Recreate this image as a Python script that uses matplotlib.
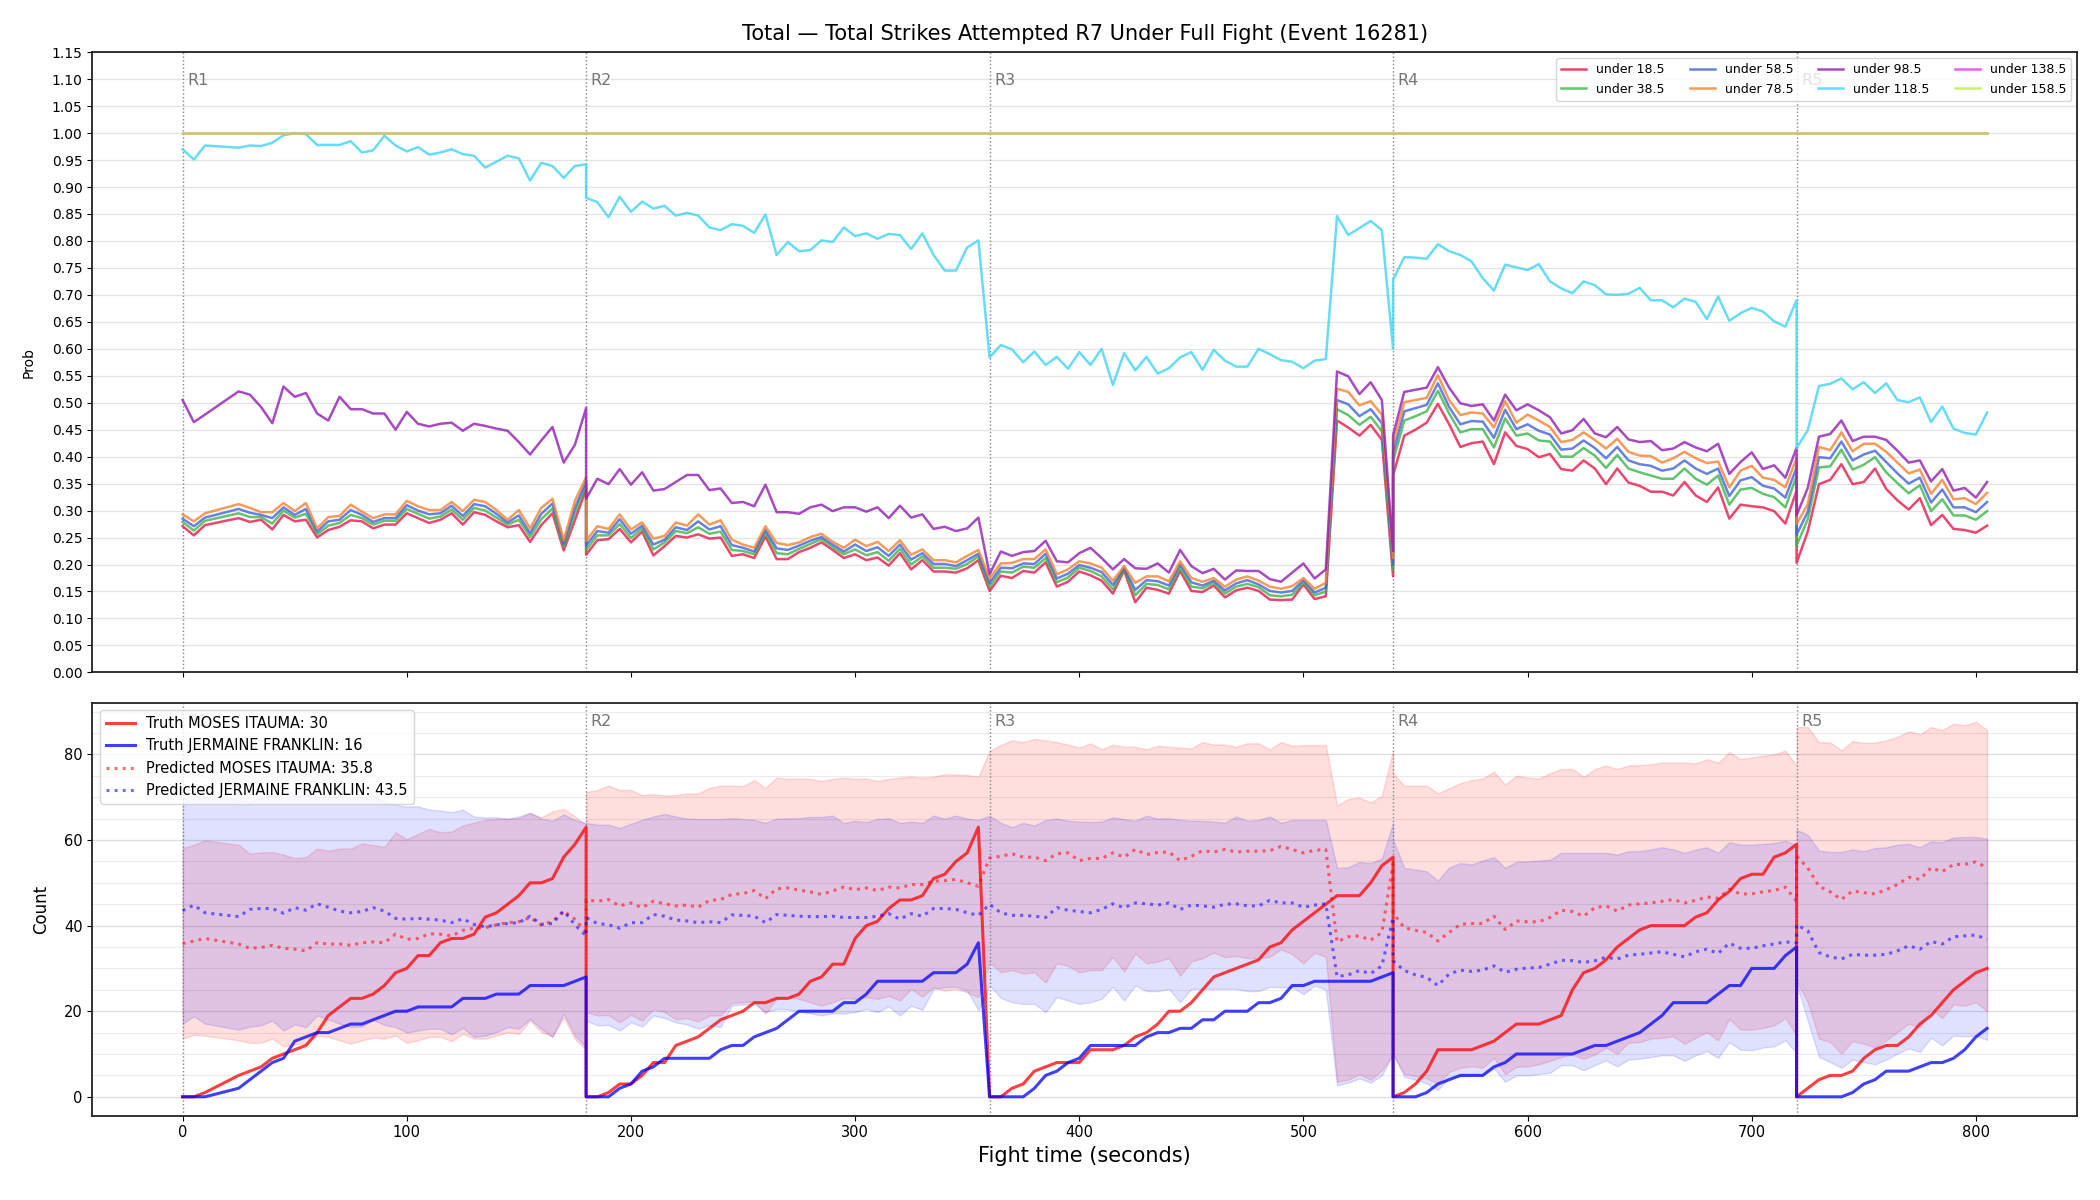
import matplotlib
matplotlib.use("Agg")
import matplotlib.pyplot as plt
from matplotlib.ticker import MultipleLocator, FormatStrFormatter
import matplotlib.transforms as mtransforms

# ---------------- data ----------------
time_s = [0, 5, 10, 25, 30, 35, 40, 45, 50, 55, 60, 65, 70, 75, 80, 85, 90, 95, 100, 105,
          110, 115, 120, 125, 130, 135, 140, 145, 150, 155, 160, 165, 170, 175, 180,
          180, 185, 190, 195, 200, 205, 210, 215, 220, 225, 230, 235, 240, 245, 250, 255,
          260, 265, 270, 275, 280, 285, 290, 295, 300, 305, 310, 315, 320, 325, 330, 335,
          340, 345, 350, 355,
          360, 365, 370, 375, 380, 385, 390, 395, 400, 405, 410, 415, 420, 425, 430, 435,
          440, 445, 450, 455, 460, 465, 470, 475, 480, 485, 490, 495, 500, 505, 510, 515,
          520, 525, 530, 535, 540,
          540, 545, 550, 555, 560, 565, 570, 575, 580, 585, 590, 595, 600, 605, 610, 615,
          620, 625, 630, 635, 640, 645, 650, 655, 660, 665, 670, 675, 680, 685, 690, 695,
          700, 705, 710, 715, 720,
          720, 725, 730, 735, 740, 745, 750, 755, 760, 765, 770, 775, 780, 785, 790, 795,
          800, 805]

round_starts = [0, 180, 360, 540, 720]
round_labels = ["R1", "R2", "R3", "R4", "R5"]

line_labels = ["under 18.5", "under 38.5", "under 58.5", "under 78.5",
               "under 98.5", "under 118.5", "under 138.5", "under 158.5"]

p_u18 = [0.271, 0.254, 0.273, 0.286, 0.279, 0.283, 0.265, 0.292, 0.280, 0.283, 0.250, 0.264, 0.270, 0.282, 0.280, 0.267, 0.274, 0.274, 0.295, 0.286, 0.277, 0.283, 0.295, 0.274, 0.297, 0.292, 0.280, 0.269, 0.273, 0.242, 0.273, 0.295, 0.226, 0.282, 0.340,
         0.218, 0.245, 0.247, 0.266, 0.241, 0.261, 0.217, 0.234, 0.253, 0.250, 0.256, 0.248, 0.250, 0.216, 0.219, 0.212, 0.252, 0.210, 0.210, 0.223, 0.231, 0.241, 0.227, 0.212, 0.219, 0.208, 0.213, 0.198, 0.221, 0.191, 0.208, 0.187, 0.187, 0.185, 0.193, 0.208,
         0.151, 0.179, 0.175, 0.188, 0.185, 0.204, 0.159, 0.168, 0.187, 0.180, 0.170, 0.146, 0.189, 0.130, 0.157, 0.153, 0.146, 0.188, 0.151, 0.149, 0.161, 0.139, 0.152, 0.157, 0.151, 0.135, 0.134, 0.135, 0.163, 0.136, 0.141, 0.467, 0.454, 0.439, 0.459, 0.431, 0.178,
         0.365, 0.439, 0.450, 0.463, 0.498, 0.460, 0.418, 0.425, 0.428, 0.386, 0.445, 0.420, 0.414, 0.399, 0.405, 0.377, 0.374, 0.393, 0.378, 0.349, 0.378, 0.352, 0.346, 0.335, 0.335, 0.328, 0.353, 0.328, 0.316, 0.343, 0.285, 0.311, 0.308, 0.306, 0.299, 0.276, 0.337,
         0.203, 0.261, 0.349, 0.357, 0.386, 0.349, 0.353, 0.378, 0.340, 0.319, 0.302, 0.323, 0.273, 0.292, 0.266, 0.264, 0.259, 0.272]

p_u38 = [0.279, 0.263, 0.281, 0.295, 0.288, 0.288, 0.276, 0.300, 0.287, 0.294, 0.256, 0.272, 0.277, 0.292, 0.286, 0.274, 0.281, 0.281, 0.303, 0.294, 0.285, 0.289, 0.302, 0.283, 0.305, 0.300, 0.287, 0.274, 0.283, 0.251, 0.284, 0.304, 0.233, 0.295, 0.348,
         0.227, 0.254, 0.254, 0.275, 0.249, 0.267, 0.228, 0.241, 0.262, 0.258, 0.269, 0.257, 0.261, 0.227, 0.225, 0.219, 0.259, 0.221, 0.219, 0.229, 0.238, 0.247, 0.232, 0.219, 0.228, 0.217, 0.223, 0.207, 0.229, 0.200, 0.215, 0.194, 0.194, 0.192, 0.201, 0.215,
         0.159, 0.187, 0.185, 0.196, 0.194, 0.212, 0.167, 0.176, 0.194, 0.188, 0.178, 0.154, 0.192, 0.143, 0.164, 0.162, 0.154, 0.194, 0.159, 0.156, 0.166, 0.146, 0.159, 0.164, 0.158, 0.143, 0.141, 0.144, 0.167, 0.143, 0.150, 0.488, 0.477, 0.459, 0.474, 0.447, 0.190,
         0.392, 0.467, 0.475, 0.484, 0.522, 0.480, 0.445, 0.451, 0.451, 0.417, 0.471, 0.439, 0.443, 0.430, 0.428, 0.400, 0.400, 0.416, 0.402, 0.379, 0.403, 0.378, 0.371, 0.365, 0.359, 0.359, 0.378, 0.359, 0.348, 0.365, 0.311, 0.339, 0.342, 0.331, 0.325, 0.306, 0.364,
         0.235, 0.284, 0.380, 0.382, 0.413, 0.376, 0.385, 0.399, 0.371, 0.351, 0.332, 0.347, 0.299, 0.321, 0.291, 0.291, 0.283, 0.299]

p_u58 = [0.285, 0.271, 0.287, 0.303, 0.296, 0.292, 0.286, 0.306, 0.292, 0.303, 0.261, 0.280, 0.283, 0.301, 0.292, 0.279, 0.286, 0.286, 0.310, 0.300, 0.293, 0.295, 0.309, 0.290, 0.312, 0.308, 0.294, 0.278, 0.291, 0.258, 0.294, 0.313, 0.238, 0.305, 0.354,
         0.235, 0.262, 0.259, 0.284, 0.257, 0.272, 0.237, 0.246, 0.269, 0.264, 0.280, 0.265, 0.271, 0.236, 0.231, 0.224, 0.264, 0.230, 0.227, 0.235, 0.244, 0.251, 0.237, 0.224, 0.237, 0.225, 0.232, 0.216, 0.237, 0.209, 0.221, 0.201, 0.201, 0.197, 0.208, 0.220,
         0.166, 0.194, 0.193, 0.202, 0.201, 0.220, 0.174, 0.183, 0.199, 0.194, 0.186, 0.162, 0.194, 0.153, 0.171, 0.169, 0.161, 0.200, 0.167, 0.161, 0.170, 0.152, 0.165, 0.171, 0.163, 0.151, 0.148, 0.151, 0.171, 0.148, 0.157, 0.505, 0.497, 0.475, 0.488, 0.462, 0.200,
         0.407, 0.484, 0.490, 0.496, 0.536, 0.492, 0.460, 0.466, 0.465, 0.435, 0.487, 0.451, 0.460, 0.448, 0.441, 0.413, 0.415, 0.430, 0.416, 0.397, 0.418, 0.393, 0.386, 0.383, 0.374, 0.378, 0.393, 0.378, 0.368, 0.378, 0.327, 0.356, 0.362, 0.346, 0.341, 0.324, 0.380,
         0.255, 0.298, 0.399, 0.397, 0.428, 0.393, 0.404, 0.411, 0.390, 0.369, 0.350, 0.361, 0.315, 0.339, 0.306, 0.306, 0.297, 0.316]

p_u78 = [0.293, 0.280, 0.295, 0.312, 0.305, 0.297, 0.297, 0.314, 0.299, 0.314, 0.267, 0.288, 0.290, 0.311, 0.298, 0.286, 0.293, 0.293, 0.318, 0.308, 0.301, 0.301, 0.316, 0.299, 0.320, 0.316, 0.301, 0.283, 0.301, 0.267, 0.305, 0.322, 0.245, 0.318, 0.362,
         0.244, 0.271, 0.266, 0.293, 0.265, 0.278, 0.248, 0.253, 0.278, 0.272, 0.293, 0.274, 0.282, 0.246, 0.237, 0.231, 0.271, 0.240, 0.236, 0.241, 0.251, 0.257, 0.242, 0.231, 0.246, 0.234, 0.242, 0.225, 0.245, 0.218, 0.228, 0.208, 0.208, 0.204, 0.216, 0.227,
         0.174, 0.202, 0.203, 0.210, 0.210, 0.228, 0.182, 0.191, 0.206, 0.202, 0.194, 0.170, 0.197, 0.166, 0.178, 0.178, 0.169, 0.206, 0.175, 0.168, 0.175, 0.159, 0.172, 0.178, 0.170, 0.159, 0.155, 0.160, 0.175, 0.155, 0.166, 0.526, 0.520, 0.495, 0.503, 0.478, 0.212,
         0.424, 0.501, 0.505, 0.509, 0.551, 0.505, 0.477, 0.482, 0.480, 0.454, 0.503, 0.463, 0.478, 0.467, 0.455, 0.427, 0.431, 0.445, 0.431, 0.415, 0.433, 0.409, 0.402, 0.401, 0.389, 0.397, 0.409, 0.397, 0.388, 0.391, 0.343, 0.374, 0.383, 0.361, 0.357, 0.343, 0.397,
         0.275, 0.312, 0.418, 0.412, 0.445, 0.410, 0.424, 0.424, 0.409, 0.389, 0.369, 0.376, 0.331, 0.357, 0.321, 0.323, 0.312, 0.333]

p_u98 = [0.505, 0.464, 0.478, 0.521, 0.515, 0.492, 0.462, 0.530, 0.511, 0.518, 0.480, 0.467, 0.511, 0.488, 0.488, 0.480, 0.480, 0.450, 0.483, 0.461, 0.456, 0.461, 0.463, 0.448, 0.461, 0.457, 0.452, 0.448, 0.427, 0.404, 0.430, 0.455, 0.389, 0.422, 0.490,
         0.322, 0.359, 0.349, 0.377, 0.348, 0.371, 0.337, 0.340, 0.353, 0.366, 0.366, 0.338, 0.341, 0.314, 0.316, 0.308, 0.348, 0.297, 0.297, 0.294, 0.306, 0.311, 0.299, 0.306, 0.306, 0.298, 0.306, 0.286, 0.309, 0.287, 0.293, 0.266, 0.270, 0.262, 0.267, 0.287,
         0.182, 0.224, 0.216, 0.223, 0.225, 0.244, 0.206, 0.204, 0.221, 0.231, 0.212, 0.191, 0.210, 0.193, 0.192, 0.202, 0.185, 0.227, 0.197, 0.184, 0.192, 0.172, 0.189, 0.188, 0.188, 0.173, 0.168, 0.185, 0.202, 0.174, 0.191, 0.558, 0.549, 0.516, 0.538, 0.505, 0.225,
         0.440, 0.520, 0.524, 0.528, 0.566, 0.528, 0.499, 0.494, 0.497, 0.467, 0.515, 0.486, 0.497, 0.486, 0.473, 0.443, 0.449, 0.470, 0.443, 0.436, 0.455, 0.432, 0.427, 0.429, 0.412, 0.415, 0.427, 0.417, 0.410, 0.424, 0.368, 0.390, 0.408, 0.377, 0.384, 0.361, 0.416,
         0.291, 0.342, 0.437, 0.442, 0.467, 0.429, 0.437, 0.437, 0.431, 0.411, 0.389, 0.393, 0.354, 0.377, 0.337, 0.342, 0.324, 0.353]

p_u118 = [0.970, 0.951, 0.977, 0.973, 0.977, 0.976, 0.982, 0.996, 1.000, 0.998, 0.978, 0.978, 0.978, 0.985, 0.964, 0.968, 0.995, 0.977, 0.966, 0.974, 0.960, 0.964, 0.970, 0.961, 0.958, 0.936, 0.947, 0.958, 0.953, 0.912, 0.945, 0.939, 0.917, 0.939, 0.942,
          0.880, 0.872, 0.844, 0.882, 0.854, 0.873, 0.860, 0.865, 0.847, 0.852, 0.847, 0.825, 0.820, 0.831, 0.828, 0.815, 0.849, 0.774, 0.798, 0.781, 0.783, 0.801, 0.798, 0.825, 0.809, 0.814, 0.804, 0.813, 0.811, 0.785, 0.814, 0.774, 0.745, 0.745, 0.788, 0.801,
          0.584, 0.607, 0.599, 0.575, 0.595, 0.570, 0.585, 0.563, 0.594, 0.570, 0.600, 0.533, 0.592, 0.560, 0.585, 0.554, 0.564, 0.584, 0.594, 0.561, 0.598, 0.578, 0.567, 0.567, 0.600, 0.590, 0.579, 0.576, 0.564, 0.578, 0.581, 0.846, 0.811, 0.824, 0.837, 0.820, 0.600,
          0.728, 0.770, 0.769, 0.767, 0.794, 0.781, 0.774, 0.762, 0.731, 0.708, 0.756, 0.751, 0.746, 0.757, 0.725, 0.712, 0.703, 0.725, 0.718, 0.701, 0.700, 0.702, 0.713, 0.690, 0.690, 0.677, 0.693, 0.687, 0.655, 0.697, 0.652, 0.666, 0.676, 0.669, 0.651, 0.641, 0.690,
          0.416, 0.449, 0.531, 0.535, 0.545, 0.525, 0.538, 0.518, 0.536, 0.505, 0.501, 0.510, 0.464, 0.493, 0.452, 0.444, 0.441, 0.482]

p_u138 = [1.0] * len(time_s)
p_u158 = [1.0] * len(time_s)

truth_moses = [0, 0, 1, 5, 6, 7, 9, 10, 11, 12, 15, 19, 21, 23, 23, 24, 26, 29, 30, 33, 33, 36, 37, 37, 38, 42, 43, 45, 47, 50, 50, 51, 56, 59, 63,
               0, 0, 1, 3, 3, 5, 8, 8, 12, 13, 14, 16, 18, 19, 20, 22, 22, 23, 23, 24, 27, 28, 31, 31, 37, 40, 41, 44, 46, 46, 47, 51, 52, 55, 57, 63,
               0, 0, 2, 3, 6, 7, 8, 8, 8, 11, 11, 11, 12, 14, 15, 17, 20, 20, 22, 25, 28, 29, 30, 31, 32, 35, 36, 39, 41, 43, 45, 47, 47, 47, 50, 54, 56,
               0, 1, 3, 6, 11, 11, 11, 11, 12, 13, 15, 17, 17, 17, 18, 19, 25, 29, 30, 32, 35, 37, 39, 40, 40, 40, 40, 42, 43, 46, 48, 51, 52, 52, 56, 57, 59,
               0, 2, 4, 5, 5, 6, 9, 11, 12, 12, 14, 17, 19, 22, 25, 27, 29, 30]

truth_jermaine = [0, 0, 0, 2, 4, 6, 8, 9, 13, 14, 15, 15, 16, 17, 17, 18, 19, 20, 20, 21, 21, 21, 21, 23, 23, 23, 24, 24, 24, 26, 26, 26, 26, 27, 28,
                  0, 0, 0, 2, 3, 6, 7, 9, 9, 9, 9, 9, 11, 12, 12, 14, 15, 16, 18, 20, 20, 20, 20, 22, 22, 24, 27, 27, 27, 27, 27, 29, 29, 29, 31, 36,
                  0, 0, 0, 0, 2, 5, 6, 8, 9, 12, 12, 12, 12, 12, 14, 15, 15, 16, 16, 18, 18, 20, 20, 20, 22, 22, 23, 26, 26, 27, 27, 27, 27, 27, 27, 28, 29,
                  0, 0, 0, 1, 3, 4, 5, 5, 5, 7, 8, 10, 10, 10, 10, 10, 10, 11, 12, 12, 13, 14, 15, 17, 19, 22, 22, 22, 22, 24, 26, 26, 30, 30, 30, 33, 35,
                  0, 0, 0, 0, 0, 1, 3, 4, 6, 6, 6, 7, 8, 8, 9, 11, 14, 16]

pred_moses = [35.8, 36.4, 37.0, 35.7, 34.7, 34.9, 35.4, 34.7, 34.5, 34.1, 36.0, 35.7, 35.7, 35.4, 36.0, 36.2, 36.0, 38.0, 36.8, 37.0, 38.1, 38.0, 37.6, 38.9, 39.4, 39.5, 40.2, 40.7, 40.9, 41.9, 40.2, 41.0, 43.4, 41.5, 38.5,
              46.0, 45.7, 46.1, 44.6, 45.3, 44.2, 45.7, 45.1, 44.6, 44.8, 44.3, 45.9, 46.1, 47.3, 47.5, 48.2, 46.3, 48.6, 48.8, 48.3, 47.9, 47.3, 48.1, 49.0, 48.4, 48.8, 48.2, 49.0, 48.8, 49.6, 49.6, 50.4, 50.5, 50.8, 50.0, 49.2,
              55.8, 56.2, 56.8, 56.0, 56.0, 55.2, 56.8, 57.0, 55.2, 55.7, 55.7, 57.0, 56.0, 57.8, 56.6, 57.1, 57.2, 55.2, 56.2, 57.5, 57.2, 57.8, 57.2, 57.4, 57.4, 57.5, 58.5, 57.8, 57.0, 57.6, 57.8, 36.2, 37.4, 37.6, 36.6, 38.4, 54.5,
              43.0, 39.5, 38.9, 38.4, 36.4, 38.4, 40.3, 40.5, 40.5, 42.2, 39.1, 41.1, 40.9, 40.9, 41.9, 43.6, 43.3, 42.2, 44.2, 44.6, 43.4, 44.8, 45.1, 45.3, 45.7, 46.1, 45.3, 45.9, 46.7, 46.4, 48.5, 47.4, 47.4, 47.9, 48.2, 49.0, 45.7,
              56.2, 53.5, 49.2, 47.9, 46.1, 48.1, 47.7, 47.4, 48.4, 49.6, 51.3, 50.8, 53.5, 52.6, 54.3, 54.3, 54.9, 53.5]

pred_jermaine = [43.5, 44.8, 43.0, 42.1, 43.8, 44.0, 44.0, 42.9, 44.2, 43.6, 45.1, 44.3, 43.4, 43.0, 43.3, 44.2, 43.4, 41.7, 41.5, 41.7, 41.5, 41.3, 40.7, 41.6, 40.3, 39.7, 40.2, 40.5, 40.7, 42.2, 40.3, 40.5, 43.4, 40.2, 37.6,
                 41.9, 40.5, 40.2, 39.4, 40.7, 40.7, 42.6, 42.2, 41.3, 41.1, 40.7, 40.9, 40.7, 42.5, 42.4, 42.2, 40.7, 42.6, 42.4, 42.2, 42.1, 42.1, 42.2, 41.9, 41.9, 41.9, 42.2, 42.8, 41.5, 42.8, 42.2, 44.0, 44.0, 43.8, 43.0, 42.4,
                 45.0, 43.0, 42.4, 42.4, 42.2, 41.9, 44.2, 43.6, 43.3, 43.0, 43.8, 45.1, 44.2, 45.3, 45.1, 44.8, 45.3, 43.8, 44.8, 44.6, 44.3, 45.0, 45.1, 44.6, 44.6, 45.9, 45.3, 45.3, 44.3, 44.8, 45.1, 28.1, 28.5, 29.5, 28.8, 30.6, 41.9,
                 31.8, 29.5, 28.5, 27.9, 26.0, 28.7, 29.6, 29.3, 29.6, 30.6, 29.1, 29.8, 30.1, 30.2, 31.0, 31.9, 31.8, 31.4, 31.8, 32.6, 32.2, 33.1, 33.3, 33.6, 33.9, 33.3, 32.7, 33.9, 34.5, 33.5, 35.9, 34.7, 34.7, 35.3, 35.7, 36.2, 36.0,
                 40.2, 38.8, 33.7, 32.7, 32.2, 33.3, 33.1, 33.1, 33.3, 34.1, 35.3, 34.5, 36.3, 35.7, 37.4, 37.6, 37.8, 36.8]

moses_hi = [58.1, 58.9, 59.9, 58.9, 56.8, 57.1, 57.2, 56.6, 55.8, 56.0, 58.0, 57.5, 58.0, 58.0, 59.2, 58.8, 58.4, 61.8, 60.2, 61.4, 62.6, 61.8, 62.0, 63.4, 64.1, 64.7, 64.9, 65.0, 65.1, 66.3, 65.3, 66.7, 67.3, 65.5, 63.6,
            71.2, 71.7, 72.7, 71.7, 71.7, 70.5, 70.7, 70.4, 70.5, 70.9, 70.9, 72.2, 72.7, 72.7, 72.6, 74.0, 72.2, 74.6, 74.3, 74.4, 74.3, 73.8, 74.3, 74.6, 74.3, 74.4, 73.8, 74.3, 74.6, 74.8, 74.6, 74.8, 75.4, 75.3, 75.2, 74.8,
            80.8, 82.2, 83.3, 82.9, 83.6, 83.3, 82.9, 82.3, 81.6, 82.6, 81.2, 82.3, 81.8, 81.8, 81.2, 82.0, 81.8, 81.6, 81.4, 82.9, 82.3, 82.3, 81.8, 82.6, 82.6, 81.2, 82.9, 82.0, 82.2, 82.2, 82.2, 68.1, 69.6, 69.9, 68.8, 70.4, 81.0,
            75.6, 72.7, 72.7, 72.7, 70.9, 72.1, 73.3, 74.0, 74.4, 76.0, 73.0, 75.0, 74.6, 74.4, 75.6, 76.6, 76.6, 74.8, 76.6, 77.4, 76.6, 77.4, 77.5, 77.7, 78.1, 78.1, 78.1, 77.9, 78.9, 78.1, 80.5, 78.9, 79.3, 79.7, 80.0, 80.9, 77.4,
            86.4, 86.4, 82.9, 82.8, 81.0, 83.1, 82.7, 82.8, 83.3, 84.1, 85.4, 84.7, 86.4, 85.7, 87.2, 86.8, 87.6, 85.7]

moses_lo = [13.6, 14.5, 14.3, 13.2, 12.6, 12.6, 13.6, 11.8, 12.2, 12.4, 14.3, 14.0, 13.2, 12.4, 13.2, 13.8, 13.6, 14.3, 12.6, 13.2, 14.0, 14.0, 13.0, 14.7, 13.6, 13.6, 14.3, 15.1, 14.7, 17.8, 15.1, 14.1, 18.5, 13.5, 11.0,
            19.8, 19.0, 19.1, 17.4, 19.2, 17.8, 20.5, 19.8, 18.1, 18.4, 17.6, 19.0, 19.0, 21.9, 22.1, 22.3, 19.4, 23.1, 23.3, 22.9, 22.1, 21.3, 22.1, 23.1, 22.9, 23.3, 22.9, 23.6, 22.5, 25.2, 23.4, 25.6, 24.8, 25.2, 24.4, 23.3,
            31.4, 29.1, 29.6, 28.8, 29.1, 26.7, 31.2, 30.6, 29.1, 29.6, 29.6, 32.7, 29.3, 33.5, 31.2, 31.6, 32.4, 28.3, 31.6, 32.4, 33.7, 32.6, 32.9, 32.4, 32.4, 32.7, 34.5, 33.3, 31.2, 33.7, 32.7, 3.5, 4.0, 5.3, 4.0, 6.2, 10.0,
            10.0, 5.4, 4.8, 4.3, 3.1, 5.8, 6.8, 7.1, 6.8, 9.1, 5.3, 7.0, 7.1, 7.6, 8.4, 9.3, 9.9, 8.9, 9.9, 11.5, 10.1, 12.6, 12.8, 13.6, 13.8, 14.1, 12.4, 13.8, 15.1, 13.2, 18.2, 15.7, 15.7, 16.1, 16.7, 18.4, 14.3,
            27.1, 22.1, 13.6, 12.8, 10.1, 13.0, 12.4, 11.6, 13.2, 15.1, 17.1, 16.3, 20.5, 18.4, 21.6, 21.3, 22.1, 20.0]

jermaine_hi = [69.5, 70.5, 70.0, 69.5, 69.0, 70.0, 70.5, 70.0, 70.5, 70.5, 70.0, 70.0, 70.3, 70.0, 70.2, 70.5, 69.0, 68.2, 67.8, 67.9, 67.1, 66.9, 66.5, 67.1, 65.5, 65.3, 65.3, 65.0, 65.5, 66.4, 65.0, 64.5, 66.0, 64.7, 64.0,
               64.0, 63.6, 63.6, 62.8, 63.8, 64.7, 65.5, 66.1, 65.5, 65.0, 64.9, 64.9, 64.9, 65.1, 64.9, 64.7, 64.0, 65.0, 65.1, 65.1, 65.4, 65.4, 65.7, 64.0, 64.5, 64.2, 64.9, 65.1, 64.0, 64.3, 64.0, 65.7, 65.0, 65.7, 65.0, 64.7,
               65.7, 64.0, 63.0, 64.0, 63.4, 64.7, 65.0, 64.5, 64.3, 64.2, 64.3, 65.3, 64.9, 64.5, 65.7, 65.0, 65.1, 64.7, 64.5, 64.5, 64.3, 64.1, 65.5, 64.5, 64.7, 65.5, 64.0, 64.7, 64.7, 64.7, 64.7, 53.5, 53.6, 54.9, 54.6, 55.7, 64.0,
               60.1, 53.5, 53.1, 52.7, 50.5, 53.6, 54.6, 54.3, 55.2, 56.0, 53.5, 54.9, 55.0, 55.2, 55.4, 57.0, 57.0, 57.0, 57.0, 57.0, 56.6, 57.4, 57.4, 57.8, 58.3, 57.8, 57.0, 57.8, 58.3, 57.0, 59.5, 58.9, 58.9, 59.1, 59.3, 59.8, 58.8,
               62.4, 61.2, 57.5, 57.2, 57.2, 57.8, 57.4, 58.1, 58.3, 58.9, 59.1, 58.3, 59.7, 59.5, 60.6, 60.7, 60.7, 60.3]

jermaine_lo = [17.1, 18.8, 17.1, 15.7, 16.4, 16.7, 17.8, 15.5, 16.9, 16.3, 19.0, 18.1, 17.1, 16.3, 16.4, 18.0, 16.8, 16.3, 15.0, 15.5, 15.9, 15.9, 14.6, 16.1, 14.0, 14.3, 15.1, 16.3, 15.9, 18.2, 15.9, 14.0, 19.4, 14.3, 11.6,
               17.8, 16.7, 16.8, 15.5, 17.4, 16.4, 19.0, 18.4, 17.4, 16.9, 15.9, 16.8, 16.3, 21.3, 21.6, 21.7, 19.8, 20.5, 20.4, 20.0, 19.5, 19.0, 19.5, 19.5, 19.8, 20.5, 19.8, 21.1, 19.0, 21.3, 20.3, 25.2, 25.6, 25.7, 24.8, 20.2,
               26.0, 23.1, 22.1, 21.7, 21.7, 19.8, 23.3, 22.5, 21.7, 22.1, 22.9, 25.7, 22.5, 26.0, 24.7, 24.7, 25.2, 22.1, 25.2, 25.2, 25.2, 25.2, 25.2, 24.7, 24.7, 25.7, 25.6, 25.6, 24.0, 26.0, 25.0, 2.7, 3.3, 4.3, 3.3, 5.0, 10.0,
               10.0, 4.7, 4.0, 3.1, 1.6, 4.5, 4.8, 5.0, 5.0, 6.6, 3.5, 5.0, 5.0, 5.3, 5.6, 7.4, 7.4, 6.2, 7.4, 8.5, 7.1, 8.7, 8.9, 9.3, 9.7, 9.7, 8.4, 9.7, 10.7, 9.1, 12.8, 11.0, 10.9, 11.5, 11.8, 13.2, 10.2,
               26.4, 17.8, 9.3, 8.1, 6.8, 8.7, 8.1, 7.6, 8.7, 10.1, 11.3, 10.5, 13.8, 12.0, 14.3, 14.1, 14.3, 13.3]

fighter_a = "MOSES ITAUMA"
fighter_b = "JERMAINE FRANKLIN"
title_text = "Total \u2014 Total Strikes Attempted R7 Under Full Fight (Event 16281)"

# ---------------- drawing ----------------
line_colors = ["#e6194B", "#3cb44b", "#4363d8", "#f58231",
               "#911eb4", "#42d4f4", "#f032e6", "#bfef45"]
prob_series = [p_u18, p_u38, p_u58, p_u78, p_u98, p_u118, p_u138, p_u158]

fig = plt.figure(figsize=(21, 12), dpi=100)
ax1 = fig.add_axes([0.044, 0.4397, 0.9452, 0.5168])
ax2 = fig.add_axes([0.044, 0.0703, 0.9452, 0.3438], sharex=ax1)

for ax in (ax1, ax2):
    for sp in ax.spines.values():
        sp.set_linewidth(1.3)
        sp.set_color("#222222")
    ax.set_axisbelow(True)

# top panel
for vals, col, lab in zip(prob_series, line_colors, line_labels):
    ax1.plot(time_s, vals, color=col, alpha=0.8, lw=1.8, label=lab)

ax1.set_ylim(0, 1.15)
ax1.yaxis.set_major_locator(MultipleLocator(0.05))
ax1.yaxis.set_major_formatter(FormatStrFormatter("%.2f"))
ax1.grid(axis="y", color="#e3e3e3", lw=0.9)
ax1.set_ylabel("Prob", fontsize=10, labelpad=12)
ax1.tick_params(axis="x", labelbottom=False)
ax1.tick_params(labelsize=10)
ax1.set_title(title_text, fontsize=15, pad=9)
ax1.legend(loc="upper right", ncol=4, fontsize=9, framealpha=0.8)

# bottom panel
ax2.fill_between(time_s, moses_lo, moses_hi, color="red", alpha=0.13)
ax2.fill_between(time_s, jermaine_lo, jermaine_hi, color="blue", alpha=0.12)
ax2.plot(time_s, truth_moses, color="red", alpha=0.75, lw=2.2,
         label=f"Truth {fighter_a}: {truth_moses[-1]}")
ax2.plot(time_s, truth_jermaine, color="blue", alpha=0.75, lw=2.2,
         label=f"Truth {fighter_b}: {truth_jermaine[-1]}")
ax2.plot(time_s, pred_moses, color="red", alpha=0.55, lw=2.2, ls=":",
         label=f"Predicted {fighter_a}: {pred_moses[0]}")
ax2.plot(time_s, pred_jermaine, color="blue", alpha=0.55, lw=2.2, ls=":",
         label=f"Predicted {fighter_b}: {pred_jermaine[0]}")

ax2.set_ylim(-4.4, 92)
ax2.yaxis.set_major_locator(MultipleLocator(20))
ax2.yaxis.set_minor_locator(MultipleLocator(5))
ax2.grid(axis="y", which="major", color="#dddddd", lw=0.9)
ax2.grid(axis="y", which="minor", color="#ebebeb", lw=0.8)
ax2.tick_params(axis="y", which="minor", length=0)
ax2.tick_params(labelsize=10.5)
ax2.set_ylabel("Count", fontsize=12, labelpad=10)
ax2.set_xlabel("Fight time (seconds)", fontsize=15)
ax2.xaxis.set_major_locator(MultipleLocator(100))
ax2.set_xlim(-40.25, 845.25)
ax2.legend(loc="upper left", fontsize=10.5, framealpha=0.8)

for ax in (ax1, ax2):
    trans = mtransforms.blended_transform_factory(ax.transData, ax.transAxes)
    for xs, lab in zip(round_starts, round_labels):
        ax.axvline(xs, color="#777777", ls=":", lw=1.0, alpha=0.9, zorder=1)
        ax.text(xs + 2, 0.955, lab, transform=trans, color="#666666",
                fontsize=11.5, va="center", ha="left", alpha=0.9)

fig.savefig("out.png", dpi=100)
